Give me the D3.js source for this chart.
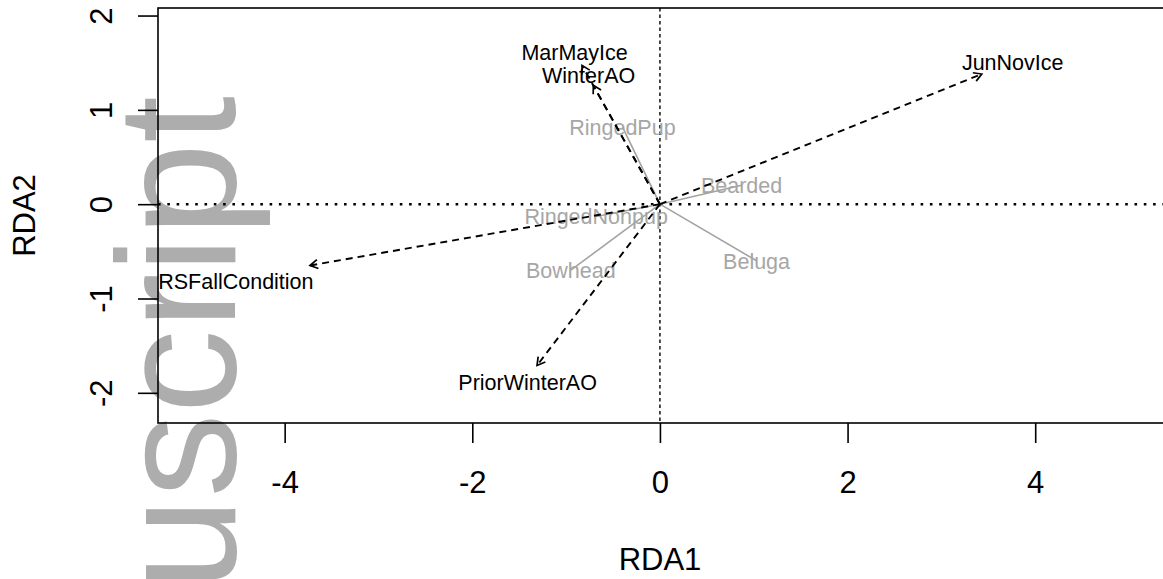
<!DOCTYPE html>
<html>
<head>
<meta charset="utf-8">
<script src="https://cdn.jsdelivr.net/npm/d3@7"></script>
<style>
  body { margin: 0; background: #fff; }
  svg { display: block; font-family: "Liberation Sans", Arial, sans-serif; }
</style>
</head>
<body>
<div id="chart"></div>
<script>
// RDA biplot: environmental arrows (dashed) and species (grey)
const xTicks = [-4, -2, 0, 2, 4];
const yTicks = [-2, -1, 0, 1, 2];

const envNames = ["JunNovIce", "MarMayIce", "WinterAO", "RSFallCondition", "PriorWinterAO"];
const envX = [3.43, -0.83, -0.71, -3.73, -1.31];
const envY = [1.38, 1.47, 1.26, -0.65, -1.71];
const envLabX = [3.76, -0.91, -0.76, -4.52, -1.41];
const envLabY = [1.51, 1.61, 1.37, -0.82, -1.89];

const spNames = ["RingedPup", "Bearded", "RingedNonpup", "Bowhead", "Beluga"];
const spX = [-0.40, 0.87, -0.68, -0.95, 1.03];
const spY = [0.82, 0.20, -0.13, -0.70, -0.60];

const W = 1163, H = 579;
const box = { left: 158, top: 8, bottom: 423, right: 1175 };

const svg = d3.select("#chart").append("svg")
  .attr("width", W)
  .attr("height", H);

const x = d3.scaleLinear().domain([-5.35, 5.49]).range([box.left, box.right]);
const y = d3.scaleLinear().domain([-2.32, 2.08]).range([box.bottom, box.top]);

// watermark behind everything
svg.append("text")
  .attr("transform", "translate(235,591) rotate(-90)")
  .attr("font-size", 168)
  .attr("fill", "#adadad")
  .text("uscript");

// zero reference lines
svg.append("line")
  .attr("x1", box.left).attr("x2", box.right)
  .attr("y1", y(0)).attr("y2", y(0))
  .attr("stroke", "#000").attr("stroke-width", 2.6)
  .attr("stroke-dasharray", "2.6,6.7");
svg.append("line")
  .attr("x1", x(0)).attr("x2", x(0))
  .attr("y1", box.top).attr("y2", box.bottom)
  .attr("stroke", "#000").attr("stroke-width", 1.4)
  .attr("stroke-dasharray", "3.5,3");

// species
const sp = spNames.map((n, i) => ({ name: n, x: spX[i], y: spY[i] }));
svg.selectAll("line.sp")
  .data(sp)
  .enter()
  .append("line")
  .attr("class", "sp")
  .attr("x1", x(0)).attr("y1", y(0))
  .attr("x2", d => x(d.x)).attr("y2", d => y(d.y))
  .attr("stroke", "#a3a3a3").attr("stroke-width", 1.6);
svg.selectAll("text.sp")
  .data(sp)
  .enter()
  .append("text")
  .attr("class", "sp")
  .attr("x", d => x(d.x)).attr("y", d => y(d.y))
  .attr("dy", "0.36em")
  .attr("text-anchor", "middle")
  .attr("font-size", 21.5)
  .attr("fill", "#a6a6a6")
  .text(d => d.name);

// environmental arrows
const env = envNames.map((n, i) => ({
  name: n, x: envX[i], y: envY[i], lx: envLabX[i], ly: envLabY[i]
}));
svg.selectAll("line.env")
  .data(env)
  .enter()
  .append("line")
  .attr("class", "env")
  .attr("x1", x(0)).attr("y1", y(0))
  .attr("x2", d => x(d.x)).attr("y2", d => y(d.y))
  .attr("stroke", "#000").attr("stroke-width", 1.9)
  .attr("stroke-dasharray", "7,5");

function headPath(d) {
  const x1 = x(0), y1 = y(0), x2 = x(d.x), y2 = y(d.y);
  const a = Math.atan2(y2 - y1, x2 - x1);
  const len = 9, sp = Math.PI / 6;
  const p1 = [x2 - len * Math.cos(a - sp), y2 - len * Math.sin(a - sp)];
  const p2 = [x2 - len * Math.cos(a + sp), y2 - len * Math.sin(a + sp)];
  return `M${p1[0]},${p1[1]}L${x2},${y2}L${p2[0]},${p2[1]}`;
}
svg.selectAll("path.head")
  .data(env)
  .enter()
  .append("path")
  .attr("class", "head")
  .attr("d", headPath)
  .attr("fill", "none")
  .attr("stroke", "#000").attr("stroke-width", 1.7);

svg.selectAll("text.env")
  .data(env)
  .enter()
  .append("text")
  .attr("class", "env")
  .attr("x", d => x(d.lx)).attr("y", d => y(d.ly))
  .attr("dy", "0.36em")
  .attr("text-anchor", "middle")
  .attr("font-size", 21.5)
  .attr("fill", "#000")
  .text(d => d.name);

// plot frame
svg.append("rect")
  .attr("x", box.left).attr("y", box.top)
  .attr("width", box.right - box.left).attr("height", box.bottom - box.top)
  .attr("fill", "none").attr("stroke", "#000").attr("stroke-width", 1.6);

// axes
const gx = svg.append("g")
  .attr("transform", `translate(0,${box.bottom})`)
  .call(d3.axisBottom(x).tickValues(xTicks).tickSize(20).tickPadding(28).tickFormat(d3.format("d")));
const gy = svg.append("g")
  .attr("transform", `translate(${box.left},0)`)
  .call(d3.axisLeft(y).tickValues(yTicks).tickSize(20).tickFormat(d3.format("d")));

[gx, gy].forEach(g => {
  g.select(".domain").remove();
  g.selectAll(".tick line").attr("stroke", "#000").attr("stroke-width", 1.6);
  g.selectAll(".tick text")
    .attr("font-family", "Liberation Sans, Arial, sans-serif")
    .attr("font-size", 31)
    .attr("fill", "#000")
    .text(d => d < 0 ? "-" + Math.abs(d) : d);
});
gy.selectAll(".tick text")
  .attr("x", 0).attr("y", 0).attr("dy", 0)
  .attr("text-anchor", "middle")
  .attr("transform", "translate(-46,0) rotate(-90)");

// axis titles
svg.append("text")
  .attr("x", 660).attr("y", 570)
  .attr("text-anchor", "middle")
  .attr("font-size", 31)
  .text("RDA1");
svg.append("text")
  .attr("transform", `translate(35,${(box.top + box.bottom) / 2}) rotate(-90)`)
  .attr("text-anchor", "middle")
  .attr("font-size", 31)
  .text("RDA2");
</script>
</body>
</html>
